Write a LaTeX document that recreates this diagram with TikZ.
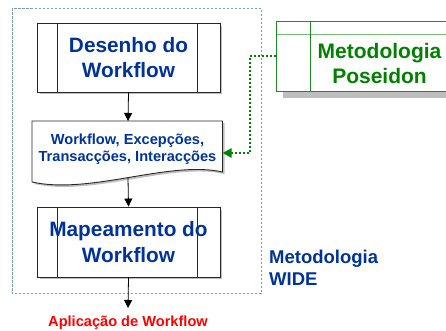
\documentclass[tikz,border=0pt]{standalone}
\usepackage{fontspec}
\setmainfont{Liberation Sans}
\usetikzlibrary{arrows.meta}
\definecolor{tblue}{RGB}{0,51,153}
\definecolor{tgreen}{RGB}{0,130,0}
\definecolor{bgreen}{RGB}{30,140,30}
\definecolor{lgreen}{RGB}{120,190,120}
\definecolor{dashc}{RGB}{125,155,185}
\definecolor{shad}{RGB}{190,190,190}
\definecolor{bord}{RGB}{40,40,40}
\tikzset{
  procbox/.style={draw=bord, line width=0.9pt, fill=white, minimum width=183pt, inner sep=0pt},
  proctext/.style={font=\bfseries\fontsize{20.8}{25.5}\selectfont, text=tblue, align=center},
  flow/.style={draw=black, line width=0.8pt, -{Triangle[width=8pt,length=8pt]}},
  greenlink/.style={draw=tgreen, line width=2pt, dash pattern=on 2pt off 2pt, -{Triangle[width=9pt,length=9pt]}},
}
\begin{document}
\begin{tikzpicture}[x=1pt,y=-1pt]
\clip (0,0) rectangle (446,330);
\fill[white] (0,0) rectangle (446,330);
% WIDE dashed frame
\draw[dashc, line width=1pt, dash pattern=on 2.5pt off 1.5pt] (12,8) rectangle (261,293.5);
% shadows
\fill[shad] (39.5,25.5) rectangle (222,94);
\fill[shad] (39.5,209.5) rectangle (222,279);
\fill[shad] (283,28) rectangle (460,97.5);
% Desenho do Workflow
\node[procbox, minimum height=69pt] (desenho) at (128.5,57.5) {};
\draw[bord, line width=0.9pt] ([xshift=21pt]desenho.north west) -- ([xshift=21pt]desenho.south west);
\draw[bord, line width=0.9pt] ([xshift=-23pt]desenho.north east) -- ([xshift=-23pt]desenho.south east);
\node[proctext] (desenhotxt) at (desenho.center) {Desenho do\\Workflow};
% Document shape
\fill[shad] (34.5,123) -- (224.5,123) -- (224.5,174) .. controls (172,162) and (92,197) .. (34.5,184) -- cycle;
\draw[bord, fill=white, line width=0.9pt] (32,121) -- (222.5,121) -- (222.5,172) .. controls (170,160) and (90,195) .. (32,182) -- cycle;
\node[font=\bfseries\fontsize{14.6}{17}\selectfont, text=tblue, align=center] (doc) at (127.5,149.5) {Workflow, Excepções,\\Transacções, Interacções};
\coordinate (doctop) at (128,121);
\coordinate (docbot) at (128,177.5);
\coordinate (docright) at (222.5,153);
% Mapeamento do Workflow
\node[procbox, minimum height=70pt] (mapa) at (128.5,242) {};
\draw[bord, line width=0.9pt] ([xshift=21pt]mapa.north west) -- ([xshift=21pt]mapa.south west);
\draw[bord, line width=0.9pt] ([xshift=-23pt]mapa.north east) -- ([xshift=-23pt]mapa.south east);
\node[proctext] (mapatxt) at (mapa.center) {Mapeamento do\\Workflow};
% Poseidon box
\node[draw=bgreen, line width=0.9pt, fill=white, minimum width=183.3pt, minimum height=69.3pt, inner sep=0pt] (poseidon) at (368.35,56.35) {};
\draw[lgreen, line width=0.9pt] (277,34.3) -- (460,34.3);
\draw[bgreen, line width=0.9pt] (310,21.7) -- (310,91);
\node[font=\bfseries\fontsize{21}{25.8}\selectfont, text=tgreen, align=center] (poseidontxt) at (379.5,63.5) {Metodologia\\Poseidon};
% WIDE label
\node[font=\bfseries\fontsize{18.5}{22}\selectfont, text=tblue, align=left, anchor=north west, inner sep=0pt] (wide) at (269,249.5) {Metodologia\\WIDE};
% Output label
\node[font=\bfseries\fontsize{14.6}{17}\selectfont, text=red, inner sep=0pt, anchor=base] (app) at (128,326) {Aplicação de Workflow};
% connectors
\draw[flow] (desenho.south) -- (doctop);
\draw[flow] (docbot) -- (mapa.north);
\draw[flow] (mapa.south) -- (128,308);
\coordinate (gcorner1) at (249.5,56.35);
\coordinate (gcorner2) at (249.5,153);
\draw[greenlink] (poseidon.west) -- (gcorner1) -- (gcorner2) -- (docright);
\end{tikzpicture}
\end{document}
